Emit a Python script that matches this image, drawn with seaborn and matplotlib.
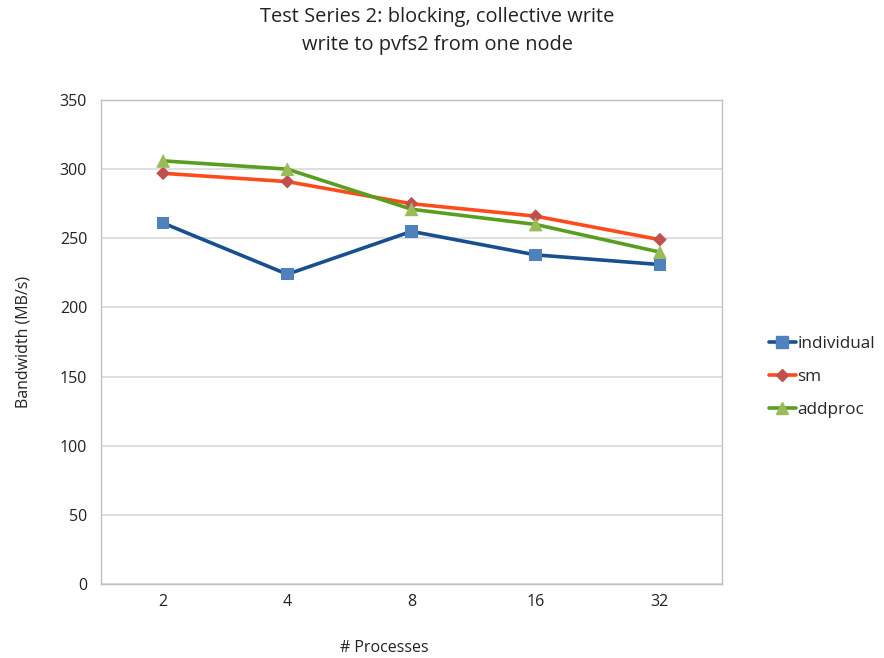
import matplotlib
matplotlib.use("Agg")
import matplotlib.pyplot as plt
import seaborn as sns
import pandas as pd

# Number of processes (category axis)
processes = ["2", "4", "8", "16", "32"]

# Write bandwidth in MB/s for each configuration
individual = [261, 224, 255, 238, 231]
sm = [297, 291, 275, 266, 249]
addproc = [306, 300, 271, 260, 240]

series_names = ["individual", "sm", "addproc"]
line_colors = {"individual": "#174F8F", "sm": "#FF4A1C", "addproc": "#5A9E21"}
marker_colors = {"individual": "#4F81BD", "sm": "#C0504D", "addproc": "#9BBB59"}
marker_shapes = {"individual": "s", "sm": "D", "addproc": "^"}
marker_sizes = {"individual": 9, "sm": 7, "addproc": 10}

df = pd.DataFrame({
    "processes": processes * 3,
    "pos": list(range(len(processes))) * 3,
    "bandwidth": individual + sm + addproc,
    "series": sum([[s] * len(processes) for s in series_names], []),
})

sns.set_theme(style="white")
plt.rcParams["font.family"] = ["Open Sans", "DejaVu Sans"]

fig = plt.figure(figsize=(8.84, 6.58), dpi=100)
ax = fig.add_axes([0.1143, 0.1125, 0.7024, 0.7355])

sns.lineplot(data=df, x="pos", y="bandwidth", hue="series", palette=line_colors,
             hue_order=series_names, linewidth=2.6, legend=False, ax=ax,
             sort=False, zorder=3)

handles = []
for name in series_names:
    sub = df[df["series"] == name]
    sns.scatterplot(data=sub, x="pos", y="bandwidth", marker=marker_shapes[name],
                    color=marker_colors[name], s=marker_sizes[name] ** 2,
                    edgecolor="none", linewidth=0, legend=False, ax=ax, zorder=4)
    h, = ax.plot([], [], color=line_colors[name], linewidth=2.6,
                 marker=marker_shapes[name], markerfacecolor=marker_colors[name],
                 markeredgecolor=marker_colors[name], markersize=marker_sizes[name] * 0.9)
    handles.append(h)

ax.set_xlim(-0.5, len(processes) - 0.5)
ax.set_ylim(0, 350)
ax.set_xticks(range(len(processes)))
ax.set_xticklabels(processes)
ax.set_yticks(range(0, 351, 50))
ax.yaxis.grid(True, color="#D9D9D9", linewidth=1.2)
ax.xaxis.grid(False)
ax.tick_params(axis="both", length=0, labelsize=11.5, colors="#222222")
ax.tick_params(axis="x", pad=7)
ax.tick_params(axis="y", pad=10)
for sp in ax.spines.values():
    sp.set_color("#C0C0C0")
    sp.set_linewidth(1.0)

ax.set_xlabel("# Processes", fontsize=11.5, color="#222222")
ax.xaxis.set_label_coords(0.456, -0.132, transform=ax.transAxes)
ax.xaxis.label.set_va("center")
ax.set_ylabel("Bandwidth (MB/s)", fontsize=11.5, color="#222222", labelpad=20)

fig.text(0.495, 0.953, "Test Series 2: blocking, collective write\nwrite to pvfs2 from one node",
         ha="center", va="center", fontsize=14.4, color="#222222", linespacing=1.5)

fig.legend(handles, series_names, loc="center left", bbox_to_anchor=(0.870, 0.427),
           frameon=False, fontsize=12.3, handlelength=1.55, labelspacing=0.98,
           handletextpad=0.12, borderaxespad=0, borderpad=0)

fig.savefig("out.png", dpi=100)
